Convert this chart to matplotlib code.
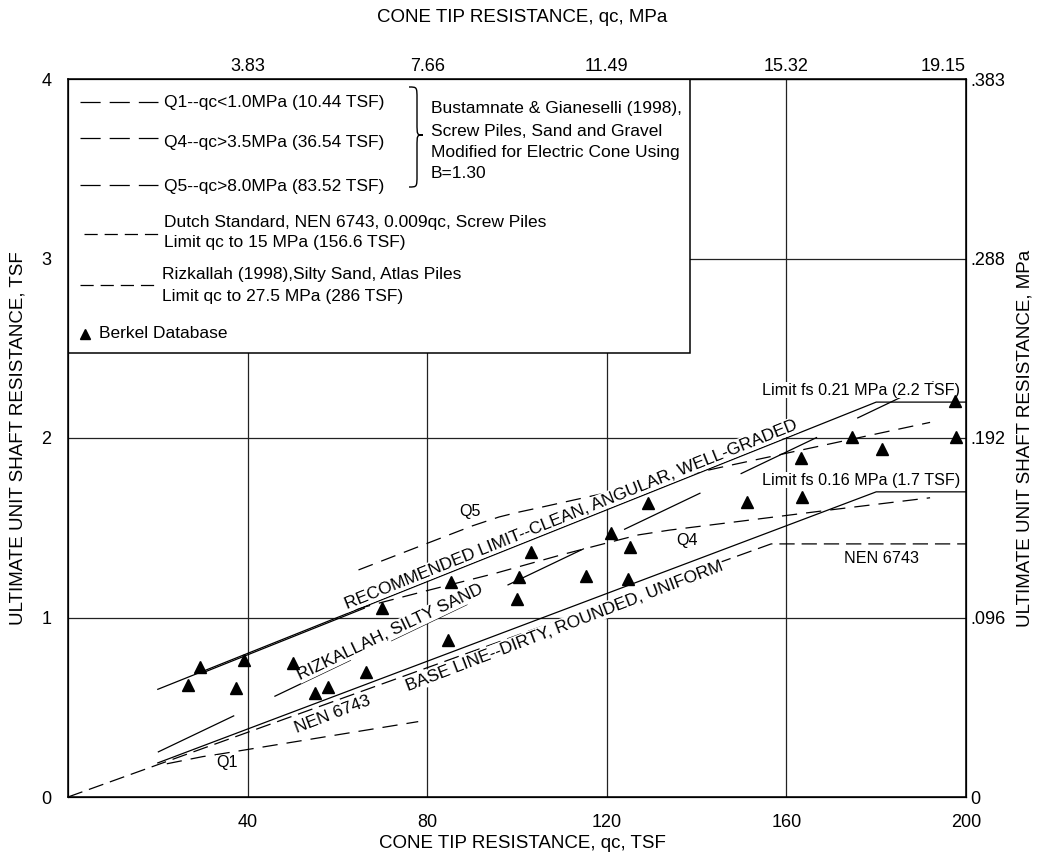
import matplotlib
matplotlib.use("Agg")
import matplotlib.pyplot as plt
from matplotlib.path import Path
from matplotlib.patches import PathPatch, Rectangle

plt.rcParams["font.family"] = ["Liberation Sans", "DejaVu Sans"]
plt.rcParams["lines.scale_dashes"] = False

# ---- data (TSF) ----
tsf_ticks = [40, 80, 120, 160, 200]
mpa_tick_labels = ["3.83", "7.66", "11.49", "15.32", "19.15"]
fs_ticks = [0, 1, 2, 3, 4]
fs_mpa_labels = ["0", ".096", ".192", ".288", ".383"]

rec_x = [20, 180, 200]
rec_y = [0.60, 2.20, 2.20]
rec_overlap_x = [30, 66]
rec_overlap_y = [0.692, 1.052]

base_x = [20, 180, 200]
base_y = [0.19, 1.70, 1.70]

nen_x = [0, 156.6, 200]
nen_y = [0, 1.41, 1.41]

riz_x = [20, 200]
riz_y = [0.25, 2.40]

q1_x = [22, 26, 30, 33, 78]
q1_y = [0.185, 0.205, 0.225, 0.236, 0.42]

q4_x = [64, 70, 80, 95, 110, 120, 127, 134, 150, 170, 192]
q4_y = [1.045, 1.085, 1.15, 1.245, 1.35, 1.415, 1.46, 1.487, 1.537, 1.60, 1.667]

q5_x = [64.7, 90, 96, 100, 105, 146, 192]
q5_y = [1.265, 1.51, 1.56, 1.585, 1.612, 1.84, 2.087]

berkel_x = [26.8, 29.4, 37.4, 39.1, 50.2, 55.0, 57.9, 66.3, 70.0, 84.6, 85.2,
            100.0, 100.5, 103.2, 115.4, 120.9, 124.7, 125.2, 129.1, 151.2,
            163.3, 163.5, 174.6, 181.3, 197.5, 197.7]
berkel_y = [0.624, 0.726, 0.606, 0.763, 0.748, 0.578, 0.615, 0.695, 1.051,
            0.875, 1.195, 1.103, 1.227, 1.367, 1.232, 1.473, 1.214, 1.391,
            1.640, 1.641, 1.887, 1.673, 2.007, 1.940, 2.208, 2.007]

W, H = 1042, 864
AX_L, AX_R, AX_T, AX_B = 68, 966, 79, 797


def px(x, y):
    """pixel position in the picture -> axes fraction"""
    return (x - AX_L) / (AX_R - AX_L), (AX_B - y) / (AX_B - AX_T)


fig = plt.figure(figsize=(W / 100, H / 100), dpi=100)
ax = fig.add_axes([AX_L / W, (H - AX_B) / H, (AX_R - AX_L) / W, (AX_B - AX_T) / H])
ax.set_xlim(0, 200)
ax.set_ylim(0, 4)
ax.set_xticks(tsf_ticks)
ax.set_xticklabels([str(t) for t in tsf_ticks])
ax.set_yticks(fs_ticks)
ax.set_yticklabels([str(t) for t in fs_ticks])
ax.tick_params(axis="x", length=0, pad=12, labelsize=13)
ax.tick_params(axis="y", length=0, pad=12, labelsize=13)
ax.grid(True, color="#222222", lw=0.9)
ax.set_axisbelow(True)
for s in ax.spines.values():
    s.set_linewidth(1.1)

ax_top = ax.twiny()
ax_top.set_xlim(0, 200)
ax_top.set_xticks(tsf_ticks)
ax_top.set_xticklabels(mpa_tick_labels)
ax_top.tick_params(axis="x", length=0, pad=3, labelsize=13)
ax_top.get_xticklabels()[-1].set_horizontalalignment("right")

ax_right = ax.twinx()
ax_right.set_ylim(0, 4)
ax_right.set_yticks(fs_ticks)
ax_right.set_yticklabels(fs_mpa_labels)
ax_right.tick_params(axis="y", length=0, pad=3, labelsize=13)

# ---- curves ----
lw = 0.9
ax.plot(rec_x, rec_y, color="k", lw=lw)
ax.plot(rec_overlap_x, rec_overlap_y, color="k", lw=lw)
ax.plot(base_x, base_y, color="k", lw=lw)
ax.plot(nen_x, nen_y, color="k", lw=lw, dashes=(11, 5))
ax.plot(riz_x, riz_y, color="k", lw=lw, dashes=(61, 32))
ax.plot(q1_x, q1_y, color="k", lw=lw, dashes=(11, 6.5))
ax.plot(q4_x, q4_y, color="k", lw=lw, dashes=(11, 6.5))
ax.plot(q5_x, q5_y, color="k", lw=lw, dashes=(11, 6.5))
ax.plot(berkel_x, berkel_y, ls="none", marker="^", ms=8, color="k", zorder=4)

# ---- labels on the curves ----
wb = dict(fc="white", ec="none", pad=0.6)
lab = dict(ha="center", va="center", rotation_mode="anchor", fontsize=12.5, bbox=wb)
ax.text(112, 1.575, "RECOMMENDED LIMIT--CLEAN, ANGULAR, WELL-GRADED", rotation=21.8, **lab)
ax.text(110.5, 0.953, "BASE LINE--DIRTY, ROUNDED, UNIFORM", rotation=21, **lab)
ax.text(71.8, 0.92, "RIZKALLAH, SILTY SAND", rotation=25.5, **lab)
ax.text(59.0, 0.462, "NEN 6743", rotation=21, **lab)
small = dict(ha="center", va="center", fontsize=11.6, bbox=wb)
ax.text(35.5, 0.19, "Q1", **small)
ax.text(89.6, 1.59, "Q5", **small)
ax.text(137.8, 1.43, "Q4", **small)
ax.text(181.1, 1.33, "NEN 6743", **small)
ax.text(198.7, 2.267, "Limit fs 0.21 MPa (2.2 TSF)", ha="right", va="center",
        fontsize=11.6, bbox=wb)
ax.text(198.7, 1.766, "Limit fs 0.16 MPa (1.7 TSF)", ha="right", va="center",
        fontsize=11.6, bbox=wb)

# ---- hand-made legend box ----
x0, y0 = px(AX_L, 353)
x1, y1 = px(690, AX_T)
ax.add_patch(Rectangle((x0, y0), x1 - x0, y1 - y0, transform=ax.transAxes,
                       fc="white", ec="k", lw=1.1, zorder=1.5))

leg_fs = 12.5
def leg_line(xa, xb, y, dashes):
    (a, yy), (b, _) = px(xa, y), px(xb, y)
    ax.plot([a, b], [yy, yy], transform=ax.transAxes, color="k", lw=lw,
            dashes=dashes, zorder=3)

def leg_text(x, y, s):
    ax.text(*px(x, y), s, transform=ax.transAxes, ha="left", va="center",
            fontsize=leg_fs, zorder=3)

leg_line(80, 158, 102, (14.5, 6.5))
leg_text(164, 102, "Q1--qc<1.0MPa (10.44 TSF)")
leg_line(80, 158, 138, (14.5, 6.5))
leg_text(164, 143, "Q4--qc>3.5MPa (36.54 TSF)")
leg_line(80, 158, 185, (14.5, 6.5))
leg_text(164, 186, "Q5--qc>8.0MPa (83.52 TSF)")

leg_text(431, 109, "Bustamnate & Gianeselli (1998),")
leg_text(431, 131, "Screw Piles, Sand and Gravel")
leg_text(431, 152, "Modified for Electric Cone Using")
leg_text(431, 173, "B=1.30")

leg_line(84, 158, 234, (9.5, 5))
leg_text(164, 222, "Dutch Standard, NEN 6743, 0.009qc, Screw Piles")
leg_text(164, 243, "Limit qc to 15 MPa (156.6 TSF)")
leg_line(80, 155, 285, (9.5, 5))
leg_text(162, 274, "Rizkallah (1998),Silty Sand, Atlas Piles")
leg_text(162, 296, "Limit qc to 27.5 MPa (286 TSF)")

ax.plot(*px(84.5, 334), transform=ax.transAxes, marker="^", ms=7, color="k", zorder=3)
leg_text(99, 333, "Berkel Database")

# curly brace joining Q1/Q4/Q5
bx, bw, r = 409, 8, 12
top, mid, bot = 87, 135, 187
pts = [(bx, top), (bx + bw, top), (bx + bw, top), (bx + bw, top + r),
       (bx + bw, mid - r),
       (bx + bw, mid), (bx + bw, mid), (bx + 2 * bw - 2, mid),
       (bx + bw, mid), (bx + bw, mid), (bx + bw, mid + r),
       (bx + bw, bot - r),
       (bx + bw, bot), (bx + bw, bot), (bx, bot)]
codes = [Path.MOVETO, Path.CURVE4, Path.CURVE4, Path.CURVE4, Path.LINETO,
         Path.CURVE4, Path.CURVE4, Path.CURVE4,
         Path.CURVE4, Path.CURVE4, Path.CURVE4, Path.LINETO,
         Path.CURVE4, Path.CURVE4, Path.CURVE4]
ax.add_patch(PathPatch(Path([px(*p) for p in pts], codes), transform=ax.transAxes,
                       fc="none", ec="k", lw=1.0, zorder=3))

# ---- axis titles ----
fig.text(522 / W, 1 - 844 / H, "CONE TIP RESISTANCE, qc, TSF", ha="center", va="center", fontsize=13.5)
fig.text(522 / W, 1 - 17 / H, "CONE TIP RESISTANCE, qc, MPa", ha="center", va="center", fontsize=13.5)
fig.text(18 / W, 1 - 438 / H, "ULTIMATE UNIT SHAFT RESISTANCE, TSF", ha="center", va="center",
         rotation=90, fontsize=13.5)
fig.text(1025 / W, 1 - 438 / H, "ULTIMATE UNIT SHAFT RESISTANCE, MPa", ha="center", va="center",
         rotation=90, fontsize=13.5)

fig.savefig("out.png", dpi=100)
